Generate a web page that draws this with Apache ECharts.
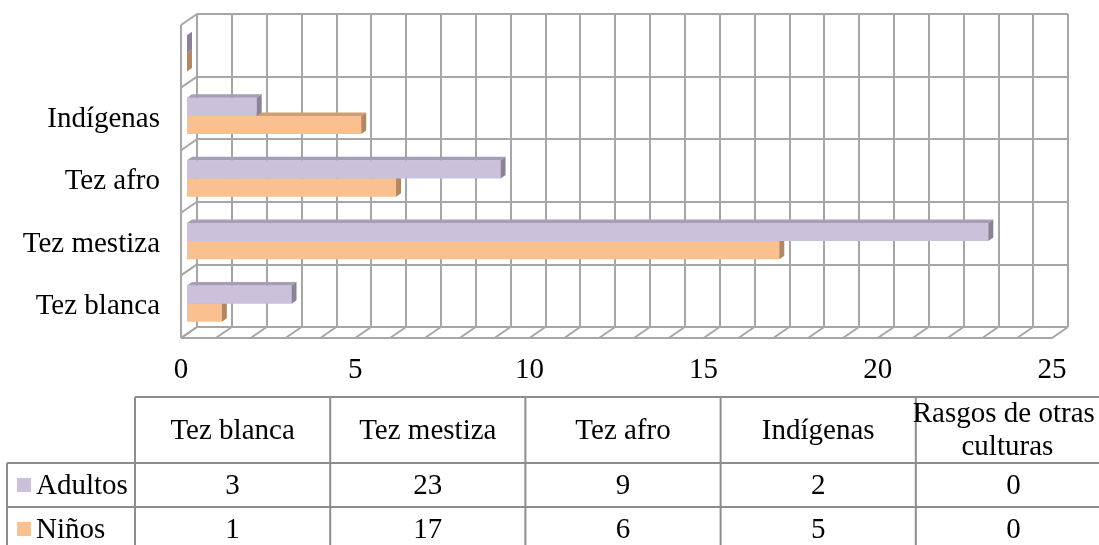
<!DOCTYPE html>
<html>
<head>
<meta charset="utf-8">
<script src="https://cdn.jsdelivr.net/npm/echarts@6/dist/echarts.min.js"></script>
<style>
  html, body { margin: 0; padding: 0; background: #fff; }
  #chart { width: 1099px; height: 545px; }
</style>
</head>
<body>
<div id="chart"></div>
<script>
'use strict'
var categories = ['Tez blanca', 'Tez mestiza', 'Tez afro', 'Indígenas', 'Rasgos de otras culturas']
var adultos = [3, 23, 9, 2, 0]
var ninos = [1, 17, 6, 5, 0]
var seriesNames = ['Adultos', 'Niños']
var xMax = 25
var xLabelStep = 5

var font = 'Liberation Serif'
var fontSize = 29
var gridColor = '#A6A6A6'
var DX = 16, DY = -11          // depth of the 3d box
var BX = 5, BY = -3.5          // depth of a bar
var offX = 6, offY = -3        // bar front face inside the box
var barRatio = 0.29
var colors = [
  { front: '#CCC1DA', top: '#A79EB5', side: '#8B8198' },
  { front: '#FAC090', top: '#CF9E72', side: '#B3875F' }
]

var chart = echarts.init(document.getElementById('chart'))

function renderFrame(params, api) {
  var cs = params.coordSys
  var x0 = cs.x, y0 = cs.y, x1 = cs.x + cs.width, y1 = cs.y + cs.height
  var ls = { stroke: gridColor, lineWidth: 2 }
  var kids = []
  for (var v = 0; v <= xMax; v++) {
    var x = api.coord([v, 0])[0]
    kids.push({ type: 'line', shape: { x1: x, y1: y1, x2: x + DX, y2: y1 + DY }, style: ls })
  }
  kids.push({ type: 'line', shape: { x1: x0, y1: y1, x2: x1, y2: y1 }, style: ls })
  kids.push({ type: 'line', shape: { x1: x0, y1: y0, x2: x0, y2: y1 }, style: ls })
  var n = categories.length
  for (var i = 0; i <= n; i++) {
    var y = y1 - i * cs.height / n
    kids.push({ type: 'line', shape: { x1: x0, y1: y, x2: x0 + DX, y2: y + DY }, style: ls })
  }
  return { type: 'group', children: kids }
}

function barRenderer(s) {
  var c = colors[s]
  return function (params, api) {
    var v = api.value(0), cat = api.value(1)
    var p0 = api.coord([0, cat]), p1 = api.coord([v, cat])
    var h = api.size([0, 1])[1] * barRatio
    var xs = p0[0] + offX, xe = p1[0] + offX
    var yt = s === 0 ? p0[1] + offY - h : p0[1] + offY
    var yb = yt + h
    return {
      type: 'group',
      children: [
        { type: 'rect', shape: { x: xs, y: yt, width: xe - xs, height: h }, style: { fill: c.front } },
        { type: 'polygon', shape: { points: [[xs, yt], [xe, yt], [xe + BX, yt + BY], [xs + BX, yt + BY]] }, style: { fill: c.top } },
        { type: 'polygon', shape: { points: [[xe, yt], [xe + BX, yt + BY], [xe + BX, yb + BY], [xe, yb]] }, style: { fill: c.side } }
      ]
    }
  }
}

// data table under the chart
var tLeft = 135, colW = 195.2, rowLeft = 7
var rowY = [397, 463, 507, 551]
var tableLine = { stroke: '#8C8C8C', lineWidth: 2 }
var tFont = fontSize + 'px "' + font + '"'
function buildTable() {
  var g = []
  var right = tLeft + colW * categories.length
  g.push({ type: 'line', shape: { x1: tLeft, y1: rowY[0], x2: right, y2: rowY[0] }, style: tableLine })
  for (var r = 1; r < rowY.length; r++) {
    g.push({ type: 'line', shape: { x1: rowLeft, y1: rowY[r], x2: right, y2: rowY[r] }, style: tableLine })
  }
  g.push({ type: 'line', shape: { x1: rowLeft, y1: rowY[1], x2: rowLeft, y2: rowY[3] }, style: tableLine })
  for (var c = 0; c <= categories.length; c++) {
    var x = tLeft + c * colW
    g.push({ type: 'line', shape: { x1: x, y1: rowY[0], x2: x, y2: rowY[3] }, style: tableLine })
  }
  var rows = [adultos, ninos]
  categories.forEach(function (name, i) {
    var cx = tLeft + (i + 0.5) * colW
    g.push({ type: 'text', x: i === categories.length - 1 ? cx - 6 : cx, y: (rowY[0] + rowY[1]) / 2 + 1,
      style: { text: name, font: tFont, fill: '#000', align: 'center', verticalAlign: 'middle',
        width: colW + 8, overflow: 'break', lineHeight: 33 } })
    rows.forEach(function (arr, r) {
      g.push({ type: 'text', x: cx, y: (rowY[r + 1] + rowY[r + 2]) / 2 + 1,
        style: { text: String(arr[i]), font: tFont, fill: '#000', align: 'center', verticalAlign: 'middle' } })
    })
  })
  seriesNames.forEach(function (name, r) {
    var cy = (rowY[r + 1] + rowY[r + 2]) / 2
    g.push({ type: 'rect', shape: { x: 17, y: cy - 7, width: 14, height: 14 }, style: { fill: colors[r].front } })
    g.push({ type: 'text', x: 36, y: cy + 1,
      style: { text: name, font: tFont, fill: '#000', align: 'left', verticalAlign: 'middle' } })
  })
  return g
}

var option = {
  backgroundColor: '#fff',
  animation: false,
  grid: [
    { left: 181, top: 25, width: 871, height: 313 },
    { left: 181 + DX, top: 25 + DY, width: 871, height: 313 }
  ],
  xAxis: [
    {
      gridIndex: 0, type: 'value', min: 0, max: xMax, interval: xLabelStep,
      axisLine: { show: false }, axisTick: { show: false }, splitLine: { show: false },
      axisLabel: { margin: 18, fontSize: fontSize, fontFamily: font, color: '#000' }
    },
    {
      gridIndex: 1, type: 'value', min: 0, max: xMax, interval: 1,
      axisLine: { show: false }, axisTick: { show: false }, axisLabel: { show: false },
      splitLine: { show: true, lineStyle: { color: gridColor, width: 2 } }
    }
  ],
  yAxis: [
    {
      gridIndex: 0, type: 'category', data: categories,
      axisLine: { show: false }, axisTick: { show: false }, splitLine: { show: false },
      axisLabel: {
        margin: 21, fontSize: fontSize, fontFamily: font, color: '#000',
        formatter: function (v, i) { return i === categories.length - 1 ? '' : v }
      }
    },
    {
      gridIndex: 1, type: 'category', data: categories,
      axisLine: { show: false }, axisTick: { show: false }, axisLabel: { show: false },
      splitLine: { show: true, lineStyle: { color: gridColor, width: 2 } }
    }
  ],
  series: [
    { type: 'custom', xAxisIndex: 0, yAxisIndex: 0, renderItem: renderFrame, data: [[0, 0]], silent: true, z: 1 },
    { name: seriesNames[1], type: 'custom', xAxisIndex: 0, yAxisIndex: 0, renderItem: barRenderer(1),
      data: ninos.map(function (v, i) { return [v, i] }), z: 3 },
    { name: seriesNames[0], type: 'custom', xAxisIndex: 0, yAxisIndex: 0, renderItem: barRenderer(0),
      data: adultos.map(function (v, i) { return [v, i] }), z: 4 }
  ],
  graphic: buildTable()
}

chart.setOption(option)
window.onresize = chart.resize
</script>
</body>
</html>
